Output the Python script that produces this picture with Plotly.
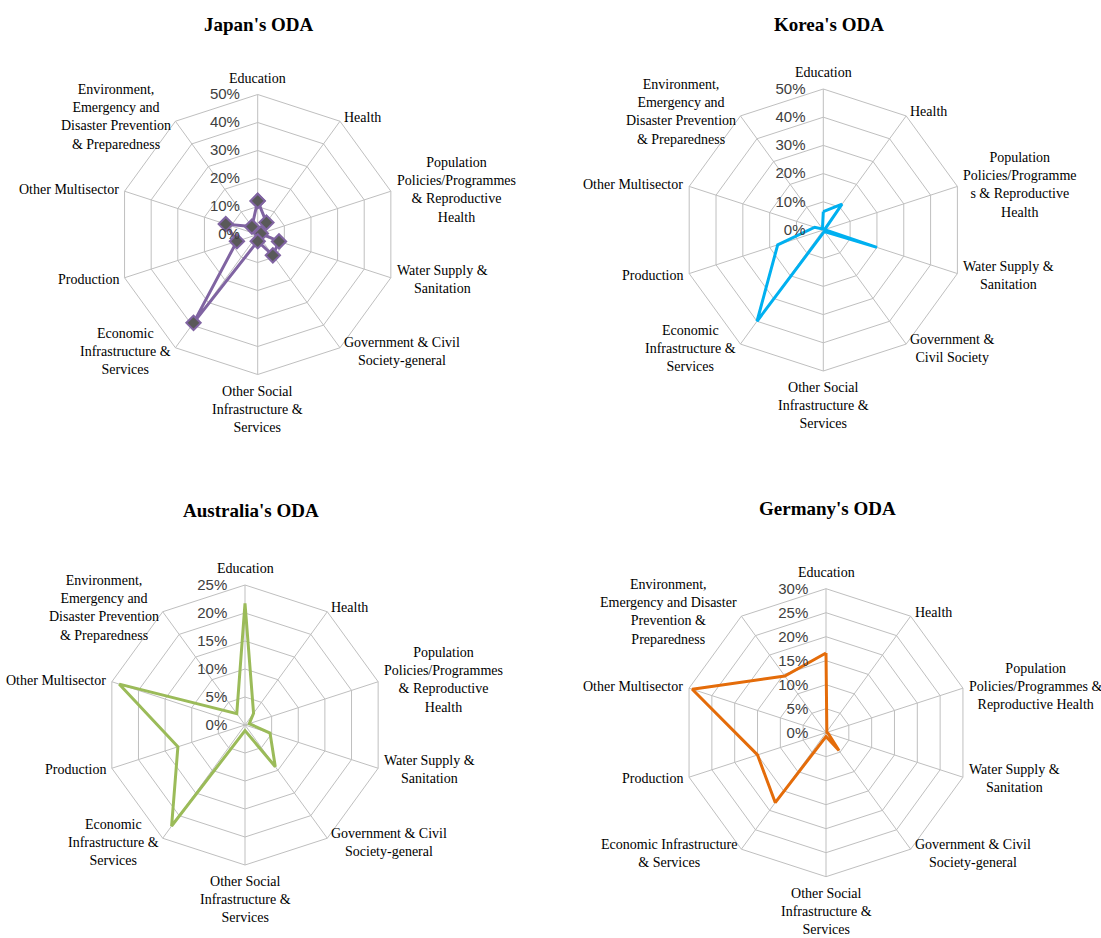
import math
import plotly.graph_objects as go

# Sector order, clockwise from the top of each radar
sectors = [
    "Education", "Health", "Population", "Water Supply", "Government",
    "Other Social", "Economic Infrastructure", "Production",
    "Other Multisector", "Environment",
]

# Wrapped sector labels as printed around each radar
labels_japan = [
    "Education", "Health",
    "Population<br>Policies/Programmes<br>& Reproductive<br>Health",
    "Water Supply &<br>Sanitation",
    "Government & Civil<br>Society-general",
    "Other Social<br>Infrastructure &<br>Services",
    "Economic<br>Infrastructure &<br>Services",
    "Production", "Other Multisector",
    "Environment,<br>Emergency and<br>Disaster Prevention<br>& Preparedness",
]
labels_korea = [
    "Education", "Health",
    "Population<br>Policies/Programme<br>s & Reproductive<br>Health",
    "Water Supply &<br>Sanitation",
    "Government &<br>Civil Society",
    "Other Social<br>Infrastructure &<br>Services",
    "Economic<br>Infrastructure &<br>Services",
    "Production", "Other Multisector",
    "Environment,<br>Emergency and<br>Disaster Prevention<br>& Preparedness",
]
labels_australia = labels_japan
labels_germany = [
    "Education", "Health",
    "Population<br>Policies/Programmes &<br>Reproductive Health",
    "Water Supply &<br>Sanitation",
    "Government & Civil<br>Society-general",
    "Other Social<br>Infrastructure &<br>Services",
    "Economic Infrastructure<br>& Services",
    "Production", "Other Multisector",
    "Environment,<br>Emergency and Disaster<br>Prevention &<br>Preparedness",
]

# Share of ODA by sector (%)
japan = [12.0, 5.3, 1.2, 8.0, 9.2, 2.4, 39.0, 7.8, 12.0, 3.5]
korea = [6.5, 11.3, 0.5, 20.0, 0.7, 1.0, 40.0, 17.0, 3.2, 0.5]
australia = [21.7, 2.6, 0.8, 4.7, 9.2, 1.0, 22.3, 12.6, 23.6, 2.5]
germany = [16.6, 0.3, 0.2, 0.5, 4.6, 0.8, 18.0, 15.0, 29.3, 14.6]

# Radial scale of each radar (max, step)
scale_japan = (50, 10)
scale_korea = (50, 10)
scale_australia = (25, 5)
scale_germany = (30, 5)

W, H = 1101, 938
SERIF = "Liberation Serif, Times New Roman, serif"
SANS = "Liberation Sans, Arial, sans-serif"
GRID = "#BFBFBF"
PAD_SIDE = 5   # gap between outer vertex and a side label (px)
PAD_END = 8    # gap above the top label / below the bottom label (px)

panels = [
    # subplot, title, values, labels, scale, colour, centre(px), radius(px), title pos(px)
    ("polar", "Japan's ODA", japan, labels_japan, scale_japan, "#8064A2",
     (257.7, 234.5), 140, (259, 25)),
    ("polar2", "Korea's ODA", korea, labels_korea, scale_korea, "#00B0F0",
     (823.3, 230.0), 141, (829, 25)),
    ("polar3", "Australia's ODA", australia, labels_australia, scale_australia,
     "#9BBB59", (245.0, 725.0), 140, (251, 510)),
    ("polar4", "Germany's ODA", germany, labels_germany, scale_germany,
     "#E46C0A", (826.0, 732.7), 144, (827, 508)),
]

fig = go.Figure()
annotations = []

for name, title, vals, labels, (rmax, step), colour, (cx, cy), rad, (tx, ty) in panels:
    theta = sectors + [sectors[0]]
    r = vals + [vals[0]]
    trace = dict(
        r=r, theta=theta, subplot=name, showlegend=False,
        line=dict(color=colour, width=3),
        hoverinfo="skip",
    )
    if name == "polar":
        trace.update(
            mode="lines+markers",
            marker=dict(symbol="diamond", size=11, color="#595959",
                        line=dict(color=colour, width=2)),
        )
    else:
        trace.update(mode="lines")
    fig.add_trace(go.Scatterpolar(**trace))

    ticks = list(range(0, rmax + 1, step))
    fig.update_layout(**{
        name: dict(
            domain=dict(x=[(cx - rad) / W, (cx + rad) / W],
                        y=[1 - (cy + rad) / H, 1 - (cy - rad) / H]),
            bgcolor="white",
            gridshape="linear",
            radialaxis=dict(
                range=[0, rmax], tickvals=ticks,
                ticktext=[f"{t}%" for t in ticks],
                angle=90, side="counterclockwise", tickangle=90,
                showline=False, ticks="outside", ticklen=12,
                tickcolor="rgba(0,0,0,0)",
                gridcolor=GRID, gridwidth=1,
                tickfont=dict(family=SANS, size=15, color="#404040"),
            ),
            angularaxis=dict(
                categoryorder="array", categoryarray=sectors,
                direction="clockwise", rotation=90,
                showline=True, linecolor=GRID, linewidth=1,
                gridcolor=GRID, gridwidth=1,
                showticklabels=False, ticks="",
            ),
        )
    })

    # Sector labels, centred text blocks set just outside each outer vertex
    n = len(sectors)
    for i, lab in enumerate(labels):
        a = math.radians(360.0 * i / n)
        s, c = math.sin(a), math.cos(a)
        if abs(s) < 0.1:
            px = cx
            py = cy - (rad + PAD_END) * c
            xa, ya = "center", ("bottom" if c > 0 else "top")
        else:
            px = cx + (rad + PAD_SIDE) * s
            py = cy - (rad + PAD_SIDE) * c
            xa, ya = ("left" if s > 0 else "right"), "middle"
        annotations.append(dict(
            text=lab, x=px / W, y=1 - py / H, xref="paper", yref="paper",
            showarrow=False, xanchor=xa, yanchor=ya, align="center",
            borderpad=0,
            font=dict(family=SERIF, size=14, color="#000000"),
        ))

    annotations.append(dict(
        text=f"<b>{title}</b>", x=tx / W, y=1 - ty / H,
        xref="paper", yref="paper", showarrow=False,
        xanchor="center", yanchor="middle",
        font=dict(family=SERIF, size=19, color="#000000"),
    ))

fig.update_layout(
    width=W, height=H,
    margin=dict(l=0, r=0, t=0, b=0),
    paper_bgcolor="white", plot_bgcolor="white",
    annotations=annotations,
)

fig.write_html("out.html")
